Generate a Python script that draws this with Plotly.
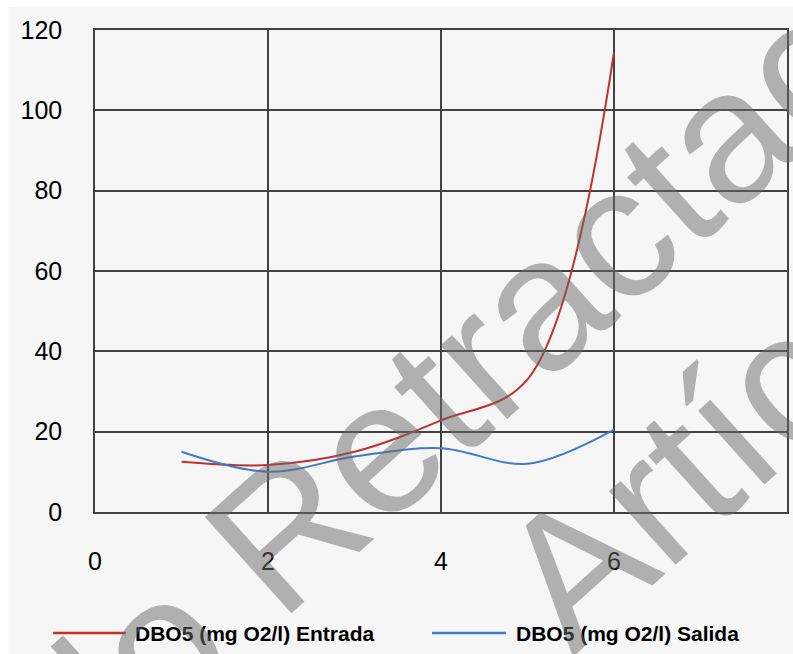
import plotly.graph_objects as go

# Sampling points and DBO5 readings (mg O2/l)
muestras = [1, 2, 3, 4, 5, 6]
dbo5_entrada = [12.5, 11.7, 15.0, 22.8, 33.0, 114.5]
dbo5_salida = [15.0, 10.0, 13.8, 15.9, 12.0, 20.5]

series_names = ["DBO5 (mg O2/l) Entrada", "DBO5 (mg O2/l) Salida"]
series_colors = ["#C0302E", "#3D7CC6"]

x_ticks = [0, 2, 4, 6, 8]
y_ticks = [0, 20, 40, 60, 80, 100, 120]

W, H = 793, 654
L, R, T, B = 95, 4, 30, 142
PW, PH = W - L - R, H - T - B


def px(x):
    return (x - L) / PW


def py(y):
    return (H - B - y) / PH


FONT = "Liberation Sans, Arial, sans-serif"
GRID = "#424242"

fig = go.Figure()
for name, vals, col in zip(series_names, [dbo5_entrada, dbo5_salida], series_colors):
    fig.add_trace(go.Scatter(
        x=muestras, y=vals, name=name, mode="lines",
        line=dict(color=col, width=2, shape="spline"),
        showlegend=False,
    ))

shapes = [
    # light panel behind the whole chart
    dict(type="rect", xref="paper", yref="paper", layer="below",
         x0=px(8), x1=px(W + 10), y0=py(H + 10), y1=py(7),
         fillcolor="#f6f6f6", line=dict(width=0)),
]

annotations = []
# legend drawn below the axis
legend_pos = [(53, 126, 133), (433, 507, 515)]
for (lx0, lx1, tx), name, col in zip(legend_pos, series_names, series_colors):
    shapes.append(dict(type="line", xref="paper", yref="paper",
                       x0=px(lx0), x1=px(lx1), y0=py(633), y1=py(633),
                       line=dict(color=col, width=2.5)))
    annotations.append(dict(xref="paper", yref="paper", x=px(tx), y=py(633),
                            xanchor="left", yanchor="middle", showarrow=False,
                            text="<b>" + name + "</b>",
                            font=dict(family=FONT, size=21, color="black")))

# diagonal watermark
wm_font = dict(family=FONT, size=188, color="rgba(105,105,105,0.5)")
for cx, cy in [(373, 453), (1181, 25)]:
    annotations.append(dict(xref="paper", yref="paper", x=px(cx), y=py(cy),
                            xanchor="center", yanchor="middle", showarrow=False,
                            textangle=-42, text="Artículo Retractación",
                            font=wm_font))

axis_common = dict(
    showgrid=True, gridcolor=GRID, gridwidth=1.5,
    showline=True, linecolor=GRID, linewidth=1.5, mirror=True,
    zeroline=False, ticks="",
    tickfont=dict(family=FONT, size=25, color="black"),
)

fig.update_layout(
    width=W, height=H,
    margin=dict(l=L, r=R, t=T, b=B),
    paper_bgcolor="white", plot_bgcolor="#f6f6f6",
    xaxis=dict(range=[0, 8], tickvals=x_ticks, ticktext=[str(v) for v in x_ticks],
               ticklabelstandoff=26, **axis_common),
    yaxis=dict(range=[0, 120], tickvals=y_ticks, ticktext=[str(v) for v in y_ticks],
               ticklabelstandoff=26, **axis_common),
    shapes=shapes, annotations=annotations,
)

fig.write_html("out.html")
